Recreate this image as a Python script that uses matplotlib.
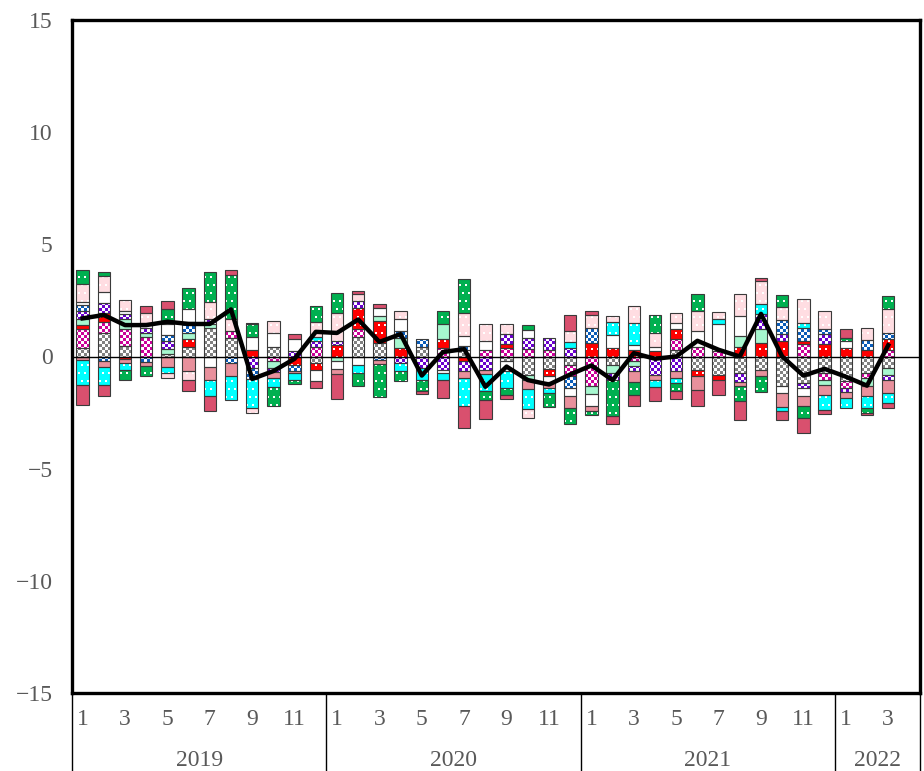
import matplotlib

matplotlib.use("Agg")
import matplotlib.colors as mcolors
import matplotlib.pyplot as plt
import matplotlib.transforms as mtransforms
import numpy as np
from matplotlib.path import Path

plt.rcParams["font.family"] = ["Liberation Serif", "DejaVu Serif"]

# months 2019-01 .. 2022-03 (axis runs to 2022-04)
years = ["2019", "2020", "2021", "2022"]
months_per_year = [12, 12, 12, 4]
month_labels = ["1", "", "3", "", "5", "", "7", "", "9", "", "11", ""] * 3 + ["1", "", "3", ""]

# contributions by component (stacked outward from zero in this order)
gray_chk = [0.39, 1.06, 0.49, 0, 0.09, 0.43, 1.28, 0.84, 0, 0.43, 0, -0.31,
            0, 0.88, 0.61, 0, 0.43, 0, 0.3, 0, -0.2, -0.81, -0.55, -0.36,
            0, -0.4, 0, 0, 0.31, -0.58, -0.81, -0.73, -0.58, -1.33, -1.18, -0.73,
            -1.1, -0.73, -0.51]
magenta_chk = [0.82, 0.48, 0.72, 0.85, 0, 0, 0, 0.3, 0, -0.2, 0, 0.42,
               0, 0.33, 0, 0, 0, 0.39, 0, 0.31, 0.39, 0.34, 0.31, -0.52,
               -1.33, 0, -0.2, 0, 0.45, 0.43, 0.24, 0, 0, 0, 0.54, -0.3,
               -0.3, -0.22, 0.31]
red_dot = [0.2, 0.39, -0.13, 0, 0, 0.36, 0, 0, 0.31, 0, -0.36, -0.27,
           0.52, 0.93, 0.97, 0.37, 0, 0.4, -0.2, 0, 0.15, 0, -0.3, 0,
           0.61, 0.37, 0.28, 0.24, 0.45, -0.3, -0.22, 0.43, 0.61, 0.69, 0.15, 0.54,
           0.39, 0.31, 0.45]
mint = [0.24, 0, 0.45, 0.2, 0.25, 0.24, 0.18, 0, 0, -0.3, 0, 0,
        -0.2, 0, 0.22, 0.47, 0, 0.64, 0, 0, 0, -0.22, 0, 0,
        -0.34, -0.33, -0.22, 0, 0, 0, 0, 0.48, 0.6, 0, 0, -0.22,
        0, -0.37, -0.3]
purple_chk = [0.36, 0.45, 0.22, 0.22, 0.34, 0, 0.2, 0, -0.5, -0.2, 0.25, 0.25,
              0.18, 0.34, 0, -0.31, -0.5, -0.58, -0.45, -0.58, 0.45, 0.49, 0.52, 0.39,
              0, -0.33, -0.22, -0.81, -0.66, 0, 0, -0.42, 0.67, 0.3, -0.22, 0.45,
              -0.2, 0, -0.22]
blue_chk = [0.3, -0.2, 0, -0.23, 0.3, 0.52, 0, -0.3, -0.52, 0, -0.27, 0,
            0, 0, -0.15, 0.3, 0.36, 0, 0.15, 0, 0, 0, 0, -0.52,
            0.67, 0, 0, 0, 0, 0, 0, 0, 0, 0.63, 0.6, 0.22,
            0, 0.42, 0.3]
white = [0.12, 0.48, 0.15, 0.24, 0.45, 0.55, -0.46, 0, 0.57, 0.6, 0.52, -0.52,
         -0.34, -0.36, 0.37, 0.51, 0, -0.15, 0.45, 0.37, -0.45, 0.34, -0.3, -0.37,
         -0.52, 0.59, 0.25, 0.19, 0.3, 0.7, 1.19, 0.9, 0, -0.3, -0.37, 0,
         0.3, 0, 0]
pink_mid = [-0.15, -0.28, -0.15, -0.2, -0.46, -0.66, -0.6, -0.58, 0, -0.27, -0.1, 0,
            -0.25, 0, -0.2, 0, 0, 0, -0.3, -0.22, 0, -0.42, -0.25, -0.52,
            -0.25, 0, -0.49, -0.22, -0.3, -0.63, 0, -0.15, -0.27, -0.6, -0.45, -0.45,
            -0.25, -0.42, -0.6]
cyan_dot = [-1.1, -0.79, -0.3, 0, -0.27, 0, -0.72, -1.04, -1.27, -0.37, -0.3, 0.22,
            0, -0.37, 0, -0.34, -0.55, -0.3, -1.27, -0.75, -0.75, -0.9, -0.22, 0.25,
            0, 0.6, 0.97, -0.33, -0.2, 0, 0.22, 0, 0.45, -0.22, 0.22, -0.67,
            -0.45, -0.55, -0.45]
pink_light = [0.8, 0.72, 0.49, 0.42, -0.22, -0.37, 0.75, 0.52, -0.25, 0.55, 0, 0.67,
              1.23, 0.3, 0, 0.37, 0, 0, 1.05, 0.75, 0.45, -0.4, 0, 0.49,
              0.55, 0.25, 0.75, 0.6, 0.45, 0.89, 0.34, 0.97, 1.04, 0.6, 1.04, 0.82,
              0, 0.55, 1.04]
green_dot = [0.63, 0.18, -0.48, -0.45, 0.67, 0.97, 1.37, 1.97, 0.55, -0.88, -0.21, 0.67,
             0.88, -0.57, -1.46, -0.45, -0.49, 0.6, 1.52, -0.37, -0.3, 0.25, -0.63, -0.7,
             -0.15, -1.61, -0.6, 0.81, -0.4, 0.78, 0, -0.7, -0.75, 0.54, -0.52, 0,
             0.15, -0.22, 0.6]
rose = [-0.93, -0.48, 0, 0.33, 0.37, -0.49, -0.67, 0.22, 0.07, 0, 0.24, -0.3,
        -1.12, 0.15, 0.19, 0, -0.15, -0.82, -0.97, -0.87, -0.2, 0, 0, 0.7,
        0.2, -0.33, -0.48, -0.64, -0.34, -0.69, -0.67, -0.82, 0.12, -0.37, -0.67, -0.18,
        0.4, -0.12, -0.22]

total = [1.7, 1.85, 1.4, 1.4, 1.55, 1.45, 1.45, 2.1, -1.0, -0.65, -0.1, 1.1,
         1.05, 1.65, 0.65, 1.0, -0.85, 0.2, 0.33, -1.35, -0.45, -1.05, -1.25, -0.8,
         -0.4, -1.05, 0.15, -0.1, 0.0, 0.7, 0.3, 0.0, 1.9, 0.0, -0.85, -0.55,
         -0.9, -1.3, 0.5]

# (values, base colour, fill pattern, pattern colour)
series = [
    (gray_chk, "#808080", "checker", "#ffffff"),
    (magenta_chk, "#cc0099", "checker", "#ffffff"),
    (red_dot, "#ff0000", "dots", "#ffffff"),
    (mint, "#a6f7cf", None, None),
    (purple_chk, "#6a00cc", "checker", "#ffffff"),
    (blue_chk, "#ffffff", "checker", "#0a5cb8"),
    (white, "#ffffff", None, None),
    (pink_mid, "#e8909c", None, None),
    (cyan_dot, "#00ffff", "dots", "#ffffff"),
    (pink_light, "#ffdde2", "dots", "#ffffff"),
    (green_dot, "#00b050", "dots", "#ffffff"),
    (rose, "#d9506e", None, None),
]

n_slots = sum(months_per_year)
x = np.arange(len(total))
BAR_W = 0.58

fig = plt.figure(figsize=(9.24, 7.71), dpi=100)
ax_rect = [72 / 924, 1 - 693 / 771, (920 - 72) / 924, (693 - 20) / 771]
ax = fig.add_axes(ax_rect)
XLIM = (-0.5, n_slots - 0.5)
YLIM = (-15, 15)

# textures roughly at screen resolution so cells stay a few pixels wide
TW = int(round(ax_rect[2] * 924))
TH = int(round(ax_rect[3] * 771))
yy, xx = np.mgrid[0:TH, 0:TW]


def texture(kind, base, fg):
    b = np.array(mcolors.to_rgb(base))
    f = np.array(mcolors.to_rgb(fg))
    if kind == "checker":
        mask = ((yy // 3) + (xx // 3)) % 2 == 0
    else:
        shift = 3 * ((yy // 8) % 2)
        mask = ((yy % 8) < 2) & (((xx + shift) % 6) < 2)
    return np.where(mask[..., None], f, b)


pos_base = np.zeros(len(x))
neg_base = np.zeros(len(x))
for vals, color, kind, fg in series:
    v = np.array(vals, dtype=float)
    bottom = np.where(v >= 0, pos_base, neg_base)
    keep = v != 0
    bars = ax.bar(x[keep], v[keep], BAR_W, bottom=bottom[keep], color=color,
                  linewidth=0, zorder=2)
    if kind is not None and keep.any():
        paths = [r.get_path().transformed(r.get_patch_transform()) for r in bars]
        clip = Path.make_compound_path(*paths)
        im = ax.imshow(texture(kind, color, fg), extent=(*XLIM, *YLIM),
                       aspect="auto", interpolation="nearest", zorder=2.1)
        im.set_clip_path(clip, ax.transData)
    ax.bar(x[keep], v[keep], BAR_W, bottom=bottom[keep], fill=False,
           edgecolor="#3a3a3a", linewidth=0.8, zorder=2.2)
    pos_base += np.clip(v, 0, None)
    neg_base += np.clip(v, None, 0)

ax.axhline(0, color="black", linewidth=1.0, zorder=3)
ax.plot(x, total, color="black", linewidth=3.2, zorder=4)

ax.set_xlim(*XLIM)
ax.set_ylim(*YLIM)
ax.set_yticks(range(-15, 16, 5))
ax.tick_params(axis="y", length=0, pad=14, labelsize=17, labelcolor="#595959")
ax.set_xticks([])
for side in ("left", "top", "bottom", "right"):
    ax.spines[side].set_linewidth(2.4)
    ax.spines[side].set_color("black")

# two-level category axis below the plot
trans = mtransforms.blended_transform_factory(ax.transData, ax.transAxes)
for i, lab in enumerate(month_labels):
    if lab:
        ax.text(i, -0.040, lab, transform=trans, ha="center", va="center",
                fontsize=17, color="#595959")

start = 0
edges = [-0.5]
for yr, n in zip(years, months_per_year):
    ax.text(start + (n - 1) / 2, -0.1, yr, transform=trans, ha="center",
            va="center", fontsize=17, color="#595959")
    start += n
    edges.append(start - 0.5)
for e in edges:
    ax.plot([e, e], [0, -0.12], transform=trans, color="black", linewidth=1.0,
            clip_on=False)

fig.savefig("out.png", dpi=100)
